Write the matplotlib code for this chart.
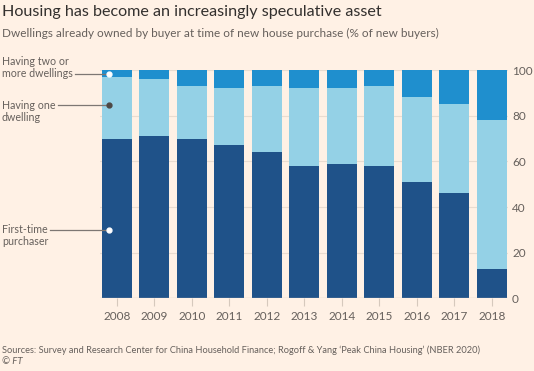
import matplotlib
matplotlib.use("Agg")
import matplotlib.pyplot as plt
import numpy as np

years = ["2008", "2009", "2010", "2011", "2012", "2013", "2014", "2015", "2016", "2017", "2018"]
first_time = [70, 71, 70, 67, 64, 58, 59, 58, 51, 46, 13]
one_dwelling = [27, 25, 23, 25, 29, 34, 33, 35, 37, 39, 65]
two_plus = [3, 4, 7, 8, 7, 8, 8, 7, 12, 15, 22]
yticks = [0, 20, 40, 60, 80, 100]

BG = "#fff1e5"
DARK = "#1f5289"
LIGHT = "#94d1e6"
MID = "#1f8fce"
GRID = "#e9dcd0"
TXT = "#66605c"

plt.rcParams['font.family'] = ['Lato', 'DejaVu Sans']

fig = plt.figure(figsize=(5.34, 3.71), dpi=100, facecolor=BG)
ax = fig.add_axes([0.187, 0.196, 0.764, 0.615], facecolor=BG)

x = np.arange(len(years))
w = 0.8
b1 = np.array(first_time)
b2 = b1 + np.array(one_dwelling)
ax.bar(x, first_time, width=w, color=DARK, zorder=2)
ax.bar(x, one_dwelling, width=w, bottom=b1, color=LIGHT, zorder=2)
ax.bar(x, two_plus, width=w, bottom=b2, color=MID, zorder=2)

ax.set_xlim(-0.45, 10.43)
ax.set_ylim(0, 100)
ax.set_yticks(yticks)
ax.yaxis.tick_right()
ax.tick_params(axis='y', length=0, pad=3, labelsize=8.5, labelcolor=TXT)
ax.set_xticks(x)
ax.set_xticklabels(years)
ax.tick_params(axis='x', length=6, width=0.8, color="#d6c9bd", pad=3, labelsize=8.5, labelcolor=TXT)
ax.grid(axis='y', color=GRID, linewidth=0.8, zorder=0)
for s in ax.spines.values():
    s.set_visible(False)
ax.axhline(0, color="#d6c9bd", linewidth=0.9, zorder=3)

# annotations: (lines of text, y value of leader, dot colour, line start px, index of line aligned with leader)
dx = -0.205
ann = [
    (["Having two or", "more dwellings"], b2[0] + two_plus[0] / 2, "white", 75, 1),
    (["Having one", "dwelling"], 84.5, "#4d4845", 58, 0),
    (["First-time", "purchaser"], 30, "white", 50, 0),
]
lh = 12  # line height in px
H = 371
for lines, yv, dotc, xe, k in ann:
    ax.plot([dx], [yv], 'o', color=dotc, markersize=3.5, zorder=5, clip_on=False)
    xe_data = ax.transData.inverted().transform(fig.transFigure.transform((xe / 534, 0)))[0]
    ax.plot([xe_data, dx], [yv, yv], color="#7d7773", linewidth=0.9, zorder=4, clip_on=False)
    ty = ax.transData.transform((0, yv))[1]
    for i, line in enumerate(lines):
        yy = ty - (i - k) * lh
        fig.text(2 / 534, yy / H, line, ha='left', va='center',
                 fontsize=7.7, color=TXT)

fig.text(2 / 534, 1 - 12 / H, "Housing has become an increasingly speculative asset",
         fontsize=11.6, color="#33302e", va='center', ha='left')
fig.text(2 / 534, 1 - 33 / H, "Dwellings already owned by buyer at time of new house purchase (% of new buyers)",
         fontsize=8.5, color=TXT, va='center', ha='left')
fig.text(2 / 534, 1 - 350 / H,
         "Sources: Survey and Research Center for China Household Finance; Rogoff & Yang \u2018Peak China Housing\u2019 (NBER 2020)",
         fontsize=6.7, color=TXT, va='center', ha='left')
fig.text(2 / 534, 1 - 362 / H, "\u00a9 FT", fontsize=6.9, color=TXT, va='center', ha='left', style='italic')

fig.savefig("out.png", dpi=100, facecolor=BG)
